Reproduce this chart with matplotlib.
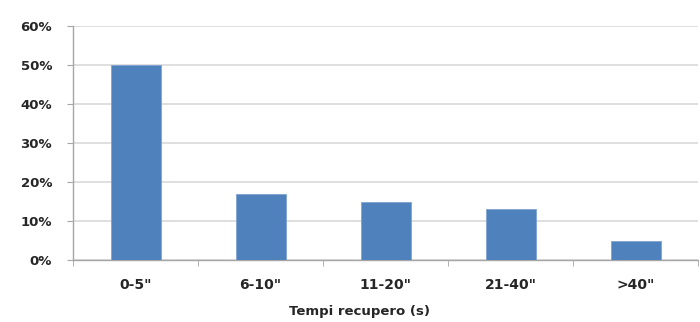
import numpy as np
import matplotlib.pyplot as plt
from matplotlib.ticker import FixedLocator, PercentFormatter

categories = ['0-5"', '6-10"', '11-20"', '21-40"', '>40"']
values = [50, 17, 15, 13, 5]
y_ticks = [0, 10, 20, 30, 40, 50, 60]

bar_color = '#4F81BD'
grid_color = '#D9D9D9'
axis_color = '#A6A6A6'
text_color = '#262626'

plt.rcParams['font.family'] = ['DejaVu Sans']

fig = plt.figure(figsize=(7, 3.22), dpi=100)
ax = fig.add_axes([73 / 700, 62 / 322, 625 / 700, 234 / 322])

x = np.arange(len(categories))
ax.bar(x, values, width=0.4, color=bar_color, edgecolor='#7FA3D1', linewidth=0.6, zorder=3)

ax.set_xlim(-0.5, len(categories) - 0.5)
ax.set_ylim(0, 60)
ax.set_yticks(y_ticks)
ax.yaxis.set_major_formatter(PercentFormatter(decimals=0))
ax.set_xticks(x)
ax.set_xticklabels(categories)
ax.xaxis.set_minor_locator(FixedLocator(np.arange(-0.5, len(categories), 1.0)))

ax.grid(axis='y', color=grid_color, linewidth=1.2, zorder=0)
for side in ['top', 'right']:
    ax.spines[side].set_visible(False)
for side in ['left', 'bottom']:
    ax.spines[side].set_color(axis_color)
    ax.spines[side].set_linewidth(1.0)

ax.tick_params(axis='y', length=4, color=axis_color, pad=11,
               labelsize=9.5, labelcolor=text_color)
ax.tick_params(axis='x', which='major', length=0, pad=13,
               labelsize=10, labelcolor=text_color)
ax.tick_params(axis='x', which='minor', length=4, color=axis_color)
for lbl in ax.get_xticklabels() + ax.get_yticklabels():
    lbl.set_fontweight('bold')

fig.text(359 / 700, 1 - 312 / 322, 'Tempi recupero (s)', ha='center', va='center',
         fontsize=9.5, fontweight='bold', color=text_color)

fig.savefig('out.png', dpi=100, facecolor='white')
